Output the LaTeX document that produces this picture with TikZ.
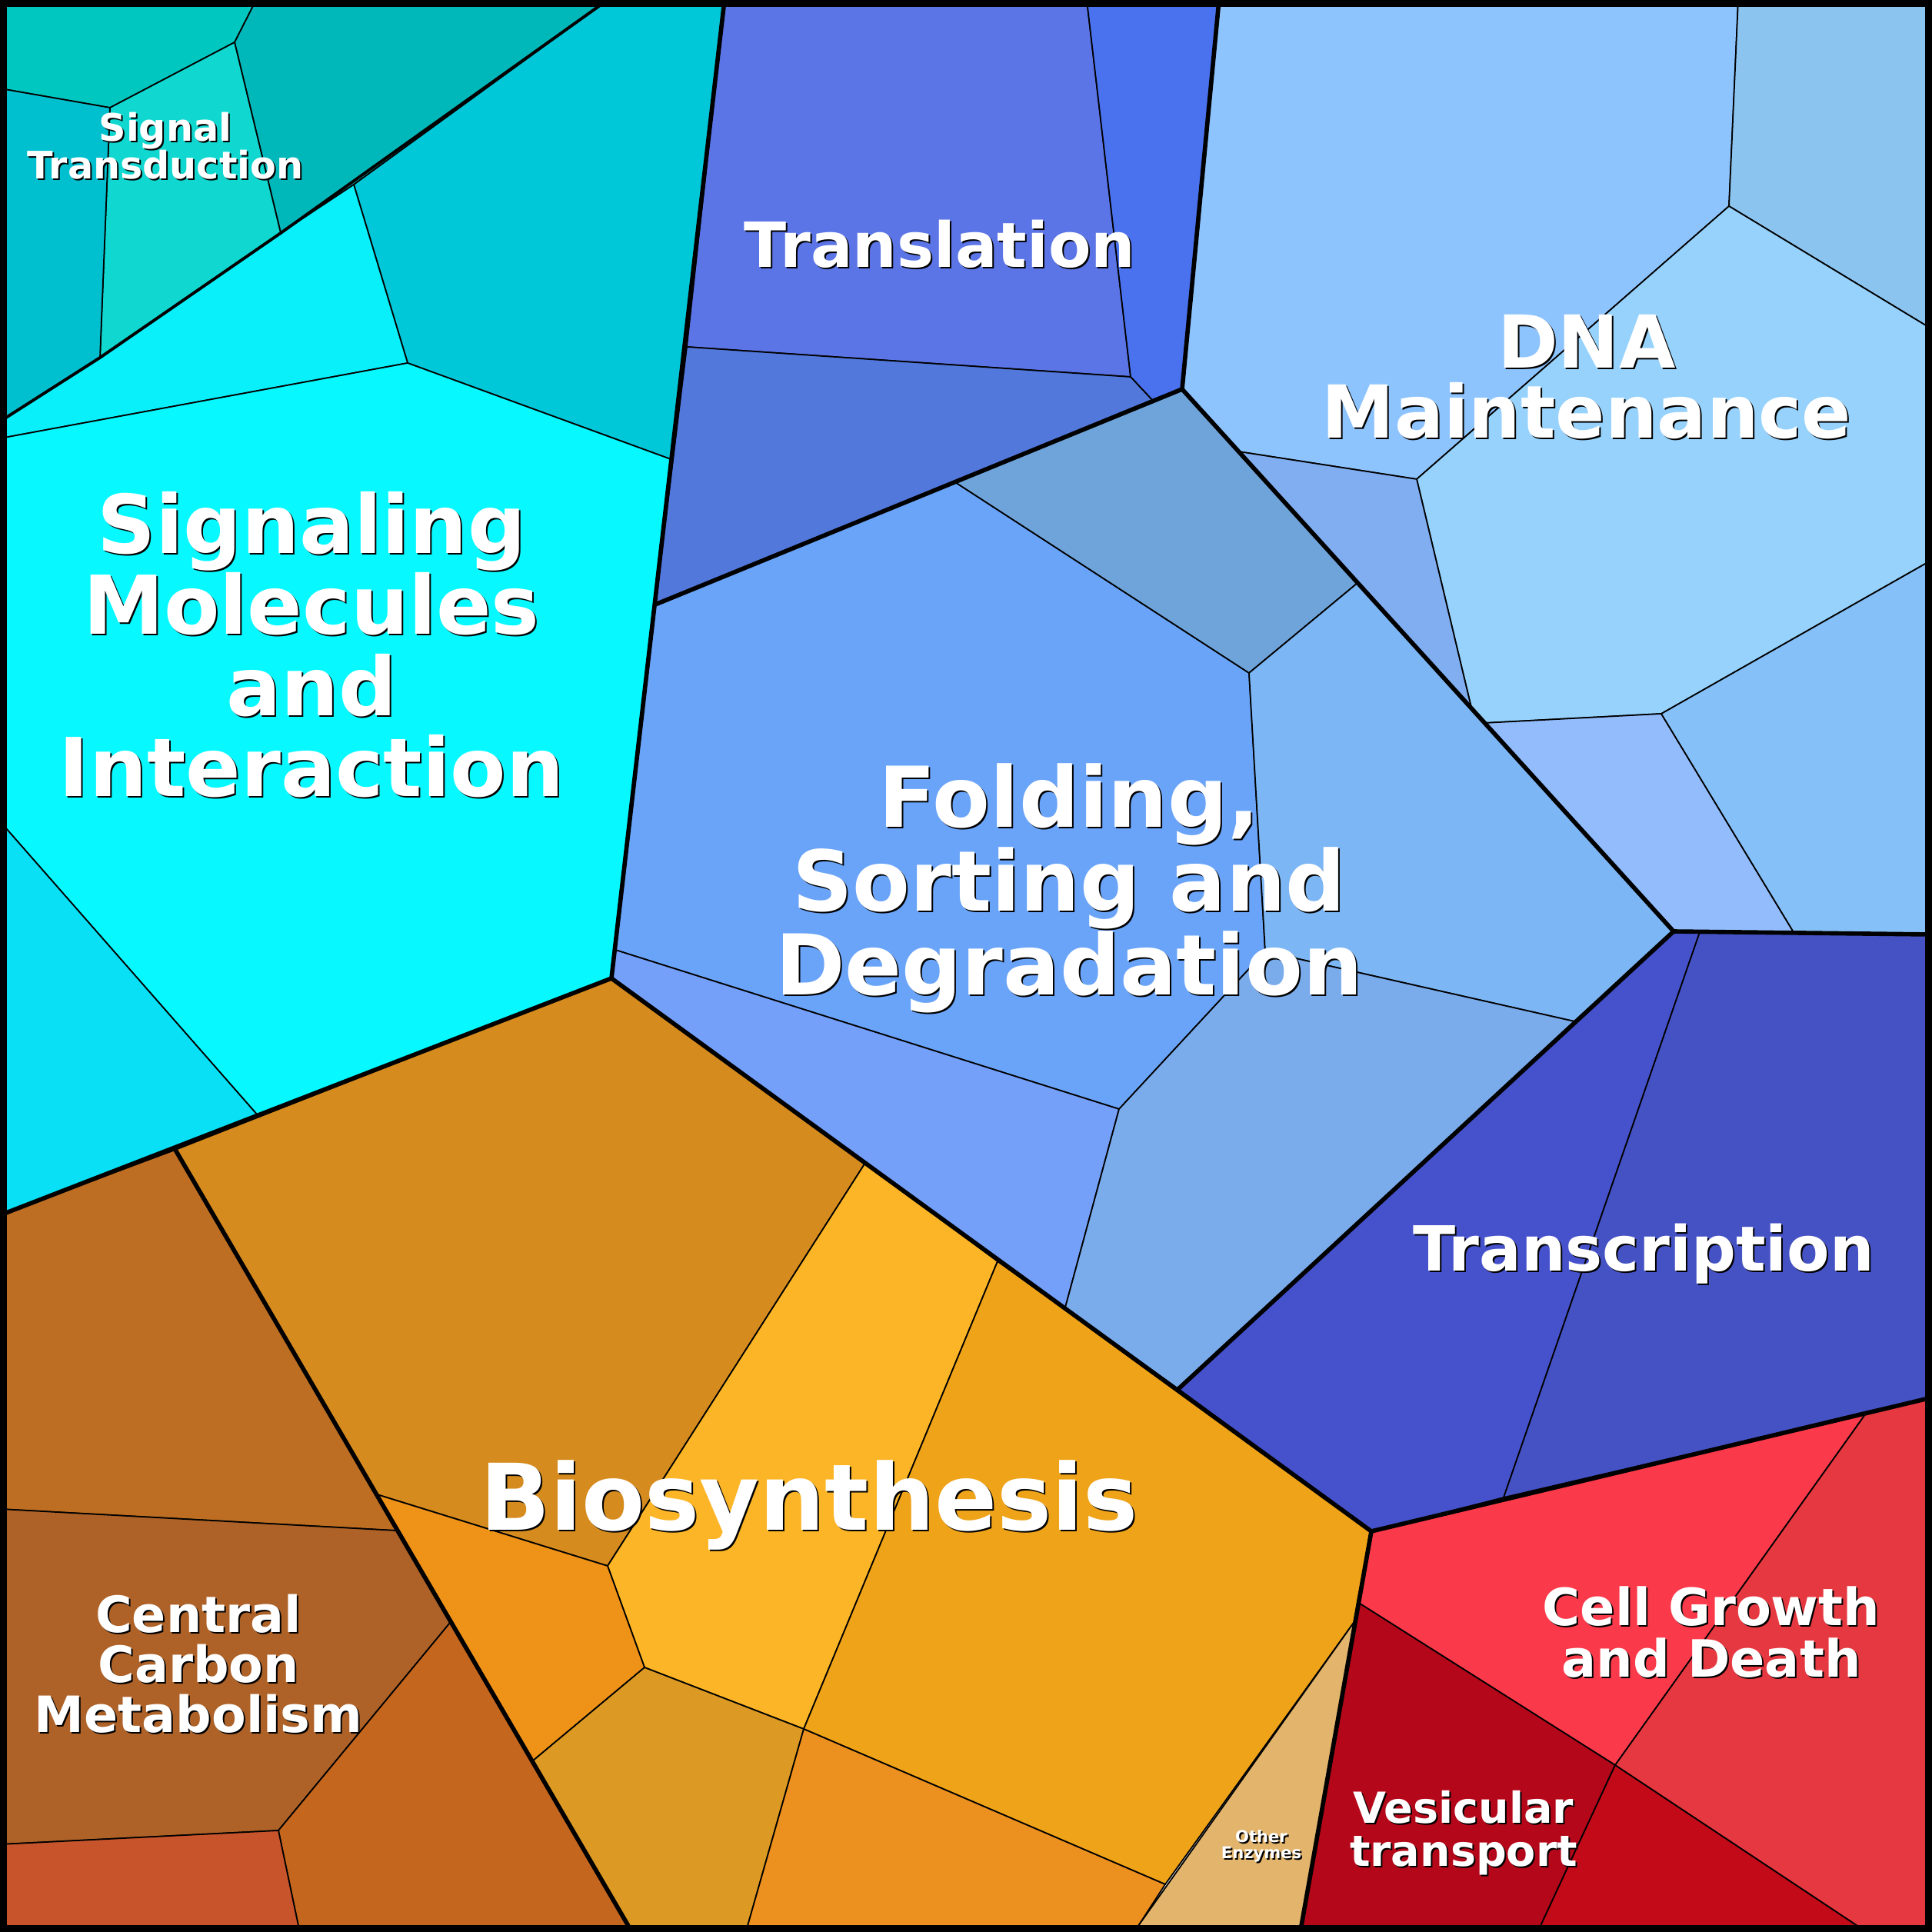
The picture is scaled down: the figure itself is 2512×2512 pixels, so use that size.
\documentclass[tikz,border=0pt]{standalone}
\usepackage{fontspec}
\setmainfont{DejaVu Sans}
\definecolor{sigA}{HTML}{00C8C0}
\definecolor{sigB}{HTML}{00B8BA}
\definecolor{sigC}{HTML}{10D8D0}
\definecolor{sigD}{HTML}{00C0D0}
\definecolor{sigE}{HTML}{00C8D8}
\definecolor{sigF}{HTML}{0AF0FA}
\definecolor{sigG}{HTML}{08F8FF}
\definecolor{sigH}{HTML}{0AE0F5}
\definecolor{trlA}{HTML}{5B75E6}
\definecolor{trlB}{HTML}{4A72EE}
\definecolor{trlC}{HTML}{5278DC}
\definecolor{dnaA}{HTML}{8EC4FE}
\definecolor{dnaB}{HTML}{8CC4F0}
\definecolor{dnaC}{HTML}{96D2FC}
\definecolor{dnaD}{HTML}{80AEF0}
\definecolor{dnaE}{HTML}{92BCFC}
\definecolor{dnaF}{HTML}{86C0F8}
\definecolor{fldA}{HTML}{6EA4DA}
\definecolor{fldB}{HTML}{6AA4F8}
\definecolor{fldC}{HTML}{7CB6F4}
\definecolor{fldD}{HTML}{74A0FA}
\definecolor{fldE}{HTML}{7AACEC}
\definecolor{trcA}{HTML}{4652CC}
\definecolor{trcB}{HTML}{4552C4}
\definecolor{bioA}{HTML}{D58B1E}
\definecolor{bioB}{HTML}{FCB526}
\definecolor{bioC}{HTML}{EFA318}
\definecolor{bioD}{HTML}{EE9218}
\definecolor{bioE}{HTML}{DC9A24}
\definecolor{bioF}{HTML}{EC9020}
\definecolor{othA}{HTML}{E2B46C}
\definecolor{ccmA}{HTML}{BD6E22}
\definecolor{ccmB}{HTML}{AE6228}
\definecolor{ccmC}{HTML}{C4661E}
\definecolor{ccmD}{HTML}{C8542C}
\definecolor{cgdA}{HTML}{FA3A4A}
\definecolor{cgdB}{HTML}{E63840}
\definecolor{cgdC}{HTML}{B4081A}
\definecolor{cgdD}{HTML}{C20A18}
\tikzset{
  cell/.style     = {draw=black, line width=0.5pt, line join=round},
  group/.style    = {draw=black, line width=1.6pt, line join=round},
  tagtext/.style  = {text=white, align=center, inner sep=0pt},
  tagshadow/.style = {text=black, align=center, inner sep=0pt, shift={(2,2)}}
}
\newcommand{\cell}[2]{\filldraw[cell, fill=#1] #2 -- cycle;}
\newcommand{\lbl}[4]{%
  \node[tagshadow, font={\bfseries#3}] at #1 {#4};
  \node[tagtext, font={\bfseries#3}] (#2) at #1 {#4};}

\begin{document}
\begin{tikzpicture}[x=0.01cm, y=-0.01cm]
  \useasboundingbox (0,0) rectangle (2512,2512);

  % signaling molecules
  \cell{sigA}{(0,0) -- (333,0) -- (305,55) -- (143,140) -- (0,115)}
  \cell{sigB}{(333,0) -- (790,0) -- (460,240) -- (365,303) -- (305,55)}
  \cell{sigC}{(143,140) -- (305,55) -- (365,303) -- (130,465)}
  \cell{sigD}{(0,115) -- (143,140) -- (130,465) -- (0,548)}
  \cell{sigE}{(790,0) -- (942,0) -- (872,597) -- (530,472) -- (460,240)}
  \cell{sigF}{(0,548) -- (130,465) -- (365,303) -- (460,240) -- (530,472) -- (0,570)}
  \cell{sigG}{(0,570) -- (530,472) -- (872,597) -- (795,1272) -- (335,1450) -- (0,1068)}
  \cell{sigH}{(0,1068) -- (335,1450) -- (0,1580)}

  % translation
  \cell{trlA}{(942,0) -- (1413,0) -- (1470,490) -- (893,451)}
  \cell{trlB}{(1413,0) -- (1585,0) -- (1537,506) -- (1498,520) -- (1470,490)}
  \cell{trlC}{(893,451) -- (1470,490) -- (1498,520) -- (852,786)}

  % DNA maintenance
  \cell{dnaA}{(1585,0) -- (2260,0) -- (2248,268) -- (1842,623) -- (1610,587) -- (1537,506)}
  \cell{dnaB}{(2260,0) -- (2512,0) -- (2512,428) -- (2248,268)}
  \cell{dnaC}{(1842,623) -- (2248,268) -- (2512,428) -- (2512,728) -- (2160,928) -- (1930,940) -- (1913,920)}
  \cell{dnaD}{(1610,587) -- (1842,623) -- (1913,920)}
  \cell{dnaE}{(1930,940) -- (2160,928) -- (2332,1212) -- (2176,1211)}
  \cell{dnaF}{(2160,928) -- (2512,728) -- (2512,1215) -- (2332,1212)}

  % folding, sorting and degradation
  \cell{fldB}{(852,786) -- (1242,627) -- (1624,875) -- (1645,1237) -- (1455,1442) -- (800,1235)}
  \cell{fldA}{(1242,627) -- (1537,506) -- (1765,758) -- (1624,875)}
  \cell{fldC}{(1624,875) -- (1765,758) -- (2176,1211) -- (2047,1328) -- (1645,1237)}
  \cell{fldD}{(800,1235) -- (1455,1442) -- (1385,1700) -- (795,1272)}
  \cell{fldE}{(1645,1237) -- (2047,1328) -- (1532,1806) -- (1385,1700) -- (1455,1442)}

  % transcription
  \cell{trcA}{(1532,1806) -- (2176,1211) -- (2210,1212) -- (1955,1947) -- (1783,1991)}
  \cell{trcB}{(2210,1212) -- (2512,1215) -- (2512,1817) -- (1955,1947)}

  % biosynthesis
  \cell{bioA}{(795,1272) -- (1125,1512) -- (790,2036) -- (490,1943) -- (228,1495)}
  \cell{bioB}{(1125,1512) -- (1297,1640) -- (1045,2248) -- (838,2168) -- (790,2036)}
  \cell{bioC}{(1297,1640) -- (1532,1806) -- (1783,1991) -- (1762,2107) -- (1515,2450) -- (1045,2248)}
  \cell{bioD}{(490,1943) -- (790,2036) -- (838,2168) -- (692,2290)}
  \cell{bioE}{(692,2290) -- (838,2168) -- (1045,2248) -- (972,2504) -- (817,2504)}
  \cell{bioF}{(1045,2248) -- (1515,2450) -- (1480,2504) -- (972,2504)}
  \cell{othA}{(1762,2107) -- (1692,2504) -- (1480,2504)}

  % central carbon metabolism
  \cell{ccmA}{(0,1580) -- (228,1495) -- (515,1990) -- (0,1962)}
  \cell{ccmB}{(0,1962) -- (515,1990) -- (585,2110) -- (362,2380) -- (0,2398)}
  \cell{ccmC}{(362,2380) -- (585,2110) -- (817,2504) -- (388,2504)}
  \cell{ccmD}{(0,2398) -- (362,2380) -- (388,2504) -- (0,2504)}

  % cell growth and death
  \cell{cgdA}{(1783,1991) -- (2428,1835) -- (2100,2295) -- (1765,2083)}
  \cell{cgdB}{(2428,1835) -- (2512,1817) -- (2512,2504) -- (2415,2504) -- (2100,2295)}
  \cell{cgdC}{(1765,2083) -- (2100,2295) -- (2003,2504) -- (1692,2504)}
  \cell{cgdD}{(2100,2295) -- (2415,2504) -- (2003,2504)}

  % group borders
  \draw[group, line width=1.1pt] (0,548) -- (130,465) -- (365,303) -- (790,0);
  \draw[group] (942,0) -- (795,1272) -- (0,1580);
  \draw[group] (1585,0) -- (1537,506) -- (852,786);
  \draw[group] (1537,506) -- (2176,1211) -- (2512,1215);
  \draw[group] (2176,1211) -- (1532,1806);
  \draw[group] (795,1272) -- (1783,1991) -- (2512,1817);
  \draw[group] (1783,1991) -- (1692,2504);
  \draw[group] (228,1495) -- (817,2504);
  \draw[black, line width=3pt] (4,4) rectangle (2508,2508);

  % labels
  \lbl{(215,190)}{sigtr}{\fontsize{14}{14}\selectfont}{Signal\\Transduction}
  \lbl{(405,838)}{sigmol}{\fontsize{30}{30}\selectfont}{Signaling\\Molecules\\and\\Interaction}
  \lbl{(1222,317)}{transl}{\fontsize{23}{26}\selectfont}{Translation}
  \lbl{(2063,490)}{dnam}{\fontsize{27}{26}\selectfont}{DNA\\Maintenance}
  \lbl{(1390,1155)}{fold}{\fontsize{31}{31}\selectfont}{Folding,\\Sorting and\\Degradation}
  \lbl{(2137,1630)}{transc}{\fontsize{23}{26}\selectfont}{Transcription}
  \lbl{(1052,1957)}{bios}{\fontsize{34}{36}\selectfont}{Biosynthesis}
  \lbl{(258,2163)}{ccm}{\fontsize{18.5}{18.5}\selectfont}{Central\\Carbon\\Metabolism}
  \lbl{(2225,2122)}{cgd}{\fontsize{19}{19}\selectfont}{Cell Growth\\and Death}
  \lbl{(1903,2383)}{vest}{\fontsize{15.8}{16}\selectfont}{Vesicular\\transport}
  \lbl{(1640,2400)}{othe}{\fontsize{6}{6}\selectfont}{Other\\Enzymes}
\end{tikzpicture}
\end{document}
